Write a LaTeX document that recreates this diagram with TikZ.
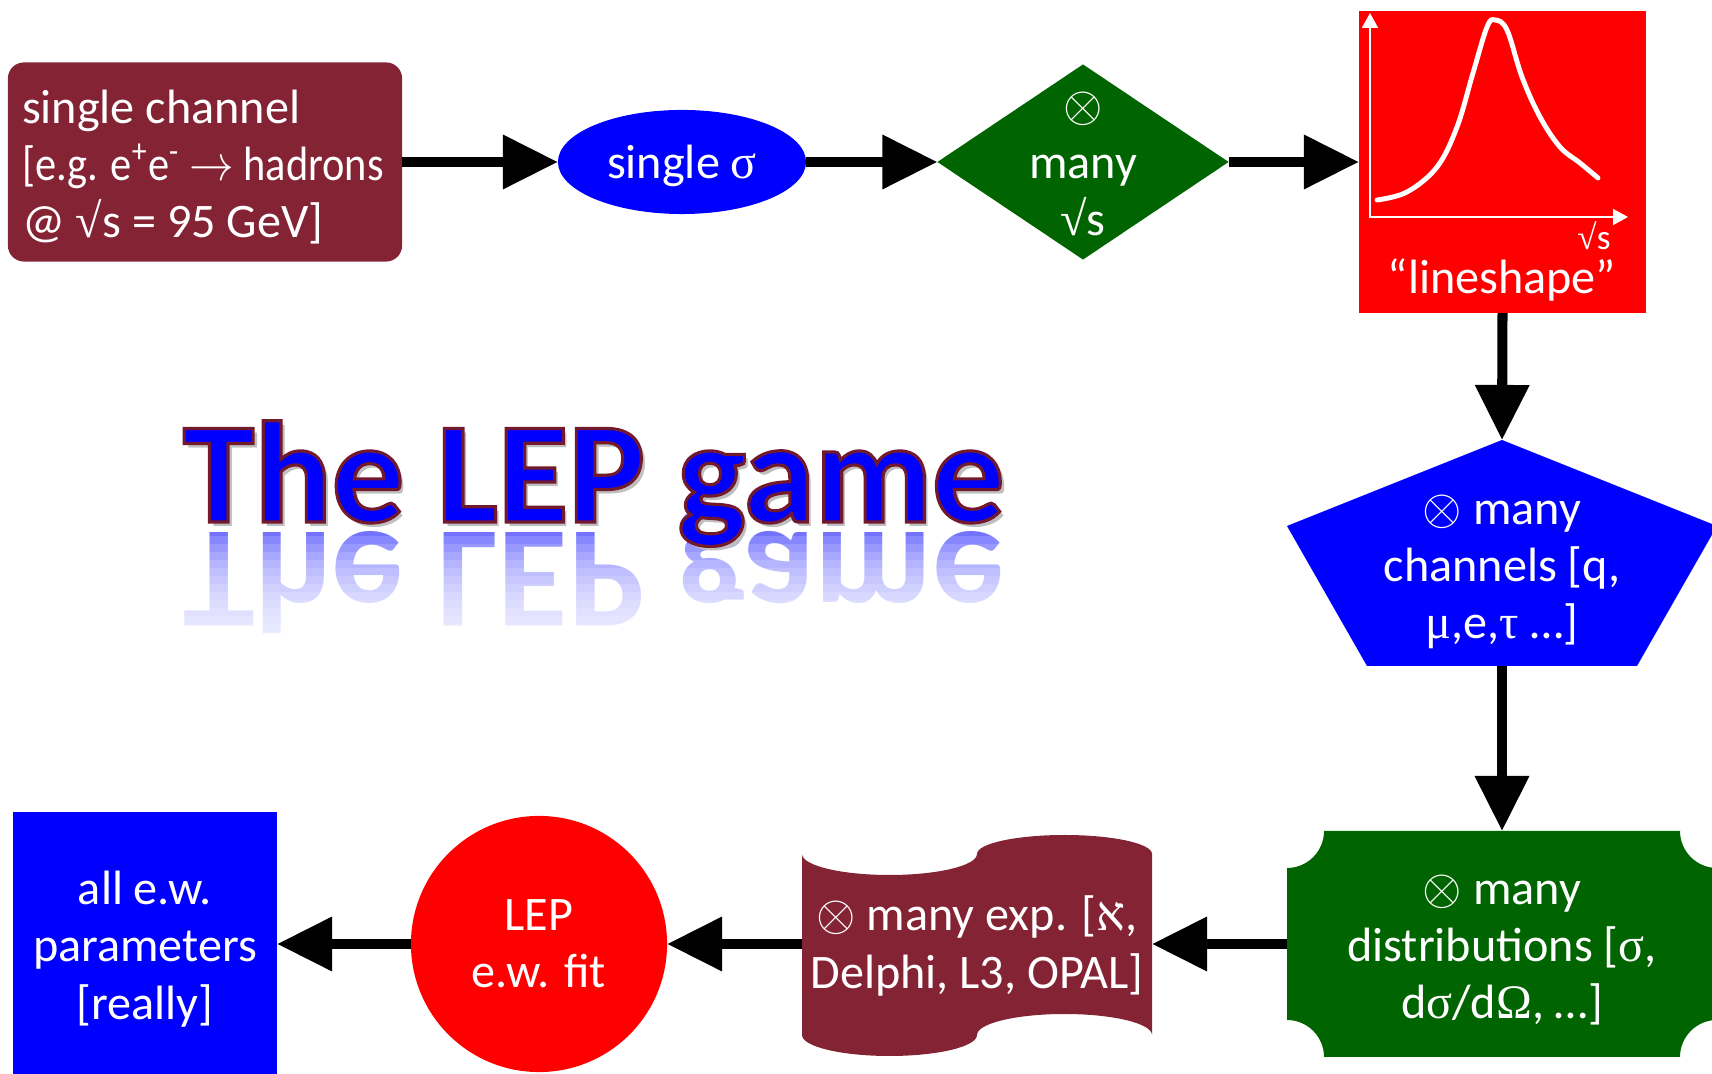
\documentclass[tikz,border=0pt]{standalone}
\usepackage{fontspec}
\setmainfont{Carlito}
\newfontfamily\grfont{Liberation Serif}
\usetikzlibrary{shapes.geometric,arrows.meta}
\definecolor{lepwine}{RGB}{131,35,52}
\definecolor{lepgreen}{RGB}{0,100,0}
\newcommand{\gr}[1]{{\grfont #1}}
\newcommand{\otm}{$\otimes$}
% outlined glyphs: fill in the text colour, thin dark red stroke
\newcommand{\outlined}[1]{\special{pdf:code q 2 Tr 0.9 w 0.45 0.1 0.18 RG}#1\special{pdf:code Q}}

\begin{document}
\begin{tikzpicture}[x=0.01cm, y=0.01cm,
    txt/.style={text=white, inner sep=0pt, align=center, font=\fontsize{13.7}{16.3}\selectfont},
    flow/.style={line width=2.85pt, -{Triangle[length=0.55cm, width=0.52cm]}},
    title/.style={inner sep=0pt, anchor=base west, font=\bfseries\fontsize{41}{41}\selectfont},
    every node/.append style={outer sep=0pt}]
    \useasboundingbox (0,0) rectangle (1712,-1074);

    % title with reflection and shadow
    \begin{scope}[shift={(183,-533)}, yscale=-1, transform shape]
        \node[title, text=blue!55] (gamemirror) at (0,0) {The LEP game};
    \end{scope}
    \foreach \i in {0,...,13} {\fill[white, opacity=0.15] (150,{-536-8*\i}) rectangle (1040,-660);}
    \node[title, text=gray!50] (gameshadow) at (187,-527) {The LEP game};
    \node[title, text=blue] (game) at (183,-522) {\outlined{The LEP game}};

    % top row
    \node[fill=lepwine, rounded corners=0.16cm, minimum width=3.94cm, minimum height=1.99cm] (chan) at (205,-162) {};
    \node[txt, align=left, anchor=west] (chantxt) at (22,-167) {single channel\\\scalebox{0.88}[1]{{[}e.g. e\textsuperscript{+}e\textsuperscript{-} $\rightarrow$ hadrons}\\@ \gr{√}s = 95 GeV]};
    \node[ellipse, fill=blue, minimum width=2.48cm, minimum height=1.04cm, inner sep=0pt] (sigma) at (682,-162) {};
    \node[txt] (sigmatxt) at (682,-166) {single \gr{σ}};
    \node[diamond, fill=lepgreen, minimum width=2.91cm, minimum height=1.95cm, inner sep=0pt] (roots) at (1083,-162) {};
    \node[txt] (rootstxt) at (1083,-164) {\otm\\many\\\gr{√}s};
    \node[fill=red, minimum width=2.87cm, minimum height=3.02cm, inner sep=0pt] (shape) at (1502.5,-162) {};
    \draw[white, line width=0.5pt, {Triangle[length=0.15cm, width=0.16cm]}-{Triangle[length=0.15cm, width=0.16cm]}] (1370,-13) -- (1370,-217) -- (1628,-217);
    \draw[white, line width=1.4pt, line cap=round] plot[smooth, tension=0.6] coordinates {(1377,-200) (1407,-192) (1437,-167) (1457,-127) (1473,-73) (1487,-27) (1495,-20) (1507,-30) (1522,-77) (1540,-117) (1560,-147) (1580,-163) (1598,-178)};
    \node[txt, font=\fontsize{10}{11}\selectfont] (axislab) at (1594,-236) {\gr{√}s};
    \node[txt, anchor=base] (shapelab) at (1502,-294) {“lineshape”};

    % right column
    \coordinate (pent-top) at (1502,-440); \coordinate (pent-bot) at (1502,-666);
    \fill[blue] (pent-top) -- (1717,-526) -- (1637,-666) -- (1367,-666) -- (1287,-526) -- cycle;
    \node[txt] (chanstxt) at (1502,-572) {\otm{} many\\channels [q,\\\gr{μ},e,\gr{τ} …]};
    \coordinate (dist-top) at (1502,-831); \coordinate (dist-left) at (1287,-944);
    \fill[lepgreen] (1324,-831) -- (1680,-831) arc (180:270:37) -- (1717,-1020) arc (90:180:37) -- (1324,-1057) arc (0:90:37) -- (1287,-868) arc (270:360:37) -- cycle;
    \node[txt] (disttxt) at (1502,-950) {\otm{} many\\distributions [\gr{σ},\\d\gr{σ}/d\gr{Ω}, …]};

    % bottom row
    \coordinate (exps-east) at (1152,-944); \coordinate (exps-west) at (802,-944);
    \fill[lepwine] (802,-854) arc[start angle=180, end angle=360, x radius=87.5, y radius=21] arc[start angle=180, end angle=0, x radius=87.5, y radius=19]
        -- (1152,-1035) arc[start angle=0, end angle=180, x radius=87.5, y radius=21] arc[start angle=0, end angle=-180, x radius=87.5, y radius=21] -- cycle;
    \node[txt] (expstxt) at (977,-946) {\otm{} many exp. [\gr{א},\\Delphi, L3, OPAL]};
    \node[circle, fill=red, minimum size=2.56cm, txt] (fit) at (539,-944) {LEP\\e.w. fit};
    \node[fill=blue, minimum width=2.64cm, minimum height=2.64cm, inner sep=0pt] (params) at (145,-944) {};
    \node[txt] (paramstxt) at (145,-949) {all e.w.\\parameters\\{[}really]};

    \draw[flow] (chan.east) -- (sigma.west);
    \draw[flow] (sigma.east) -- (roots.west);
    \draw[flow] (roots.east) -- (shape.west);
    \draw[flow] (shape.south) -- (pent-top);
    \draw[flow] (pent-bot) -- (dist-top);
    \draw[flow] (dist-left) -- (exps-east);
    \draw[flow] (exps-west) -- (fit.east);
    \draw[flow] (fit.west) -- (params.east);
\end{tikzpicture}
\end{document}
